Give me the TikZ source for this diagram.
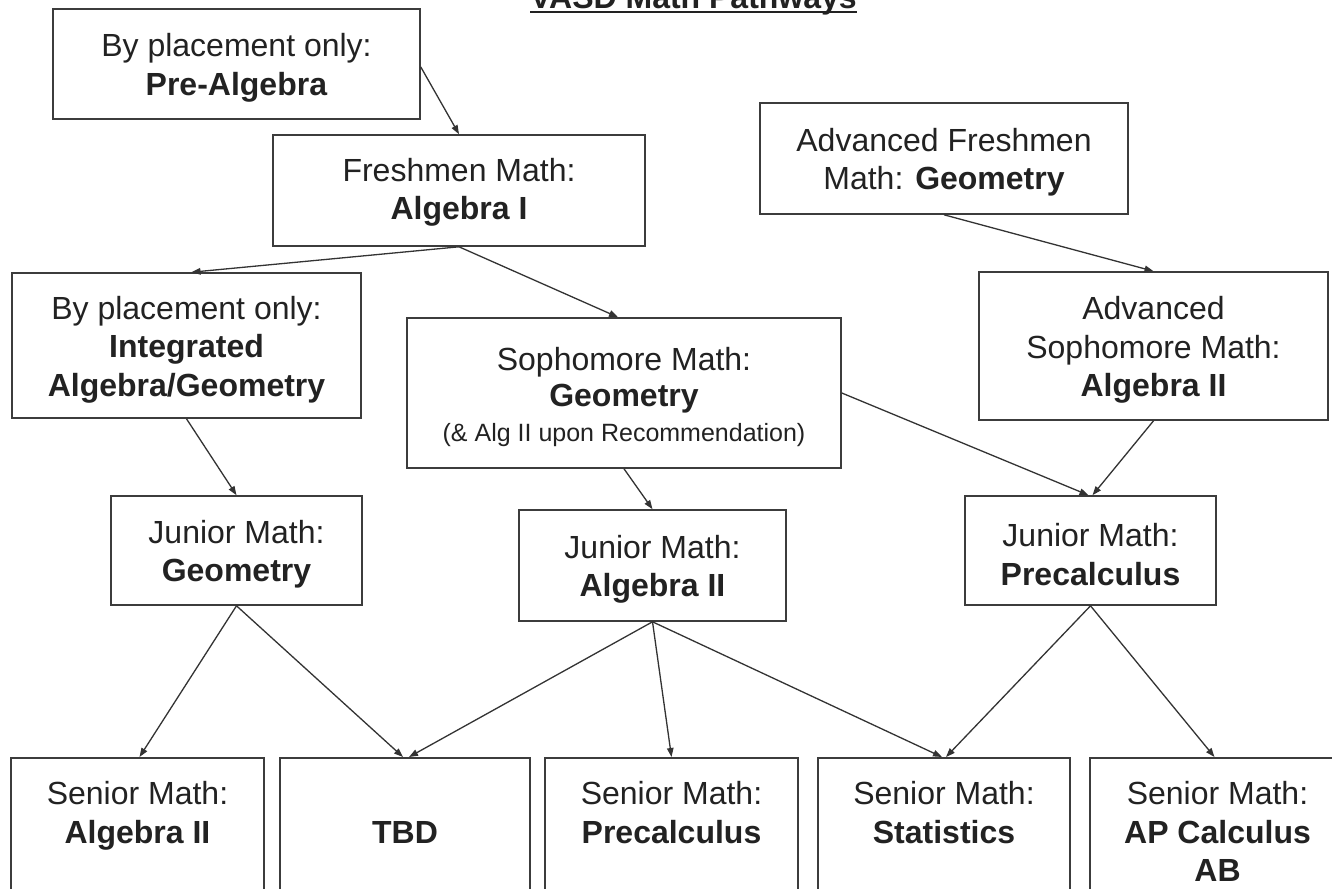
\documentclass[tikz,border=0pt]{standalone}
\usepackage{fontspec}
\setmainfont{Liberation Sans}
\usetikzlibrary{arrows.meta,calc}
\definecolor{boxgray}{HTML}{3C3C3C}
\definecolor{linegray}{HTML}{333333}
\definecolor{textgray}{HTML}{222222}
\newcommand{\topstrut}{\rule{0pt}{31pt}}
\begin{document}
\begin{tikzpicture}[x=1pt,y=-1pt,
  box/.style={draw=boxgray,line width=1.6pt,align=center,inner sep=0pt,
    font=\fontsize{32}{38.5}\selectfont,text=textgray},
  senior/.style={draw=boxgray,line width=1.6pt,inner xsep=0pt,inner ysep=24pt,
    anchor=north,font=\fontsize{32}{38.5}\selectfont,text=textgray},
  conn/.style={draw=linegray,line width=1.3pt,-{Triangle[length=9pt,width=6.5pt]}},
]
\path[use as bounding box] (0,0) rectangle (1332,888);
\clip (0,0) rectangle (1332,888);
\fill[white] (0,0) rectangle (1332,888);

% title
\node[font=\fontsize{32}{38}\selectfont\bfseries,inner sep=0pt,anchor=base,text=textgray]
  (title) at (693.5,9) {VASD Math Pathways};
\draw[line width=2.5pt,textgray] ($(title.base west)+(0,3)$) -- ($(title.base east)+(0,3)$);

% boxes
\node[box,minimum width=367,minimum height=110] (prealg) at (236.5,64)
  {\topstrut By placement only:\\\textbf{Pre-Algebra}};
\node[box,minimum width=372,minimum height=111] (fresh) at (459,190.5)
  {\rule{0pt}{27pt}Freshmen Math:\\\textbf{Algebra I}};
\node[box,minimum width=368,minimum height=111] (advfresh) at (944,158.5)
  {\topstrut Advanced Freshmen\\Math: \textbf{Geometry}};
\node[box,minimum width=349,minimum height=145] (integ) at (186.5,345.5)
  {\topstrut By placement only:\\\textbf{Integrated}\\\textbf{Algebra/Geometry}};
\node[box,minimum width=434,minimum height=150] (soph) at (624,393)
  {\topstrut Sophomore Math:\\[-2pt]\textbf{Geometry}\\[-4pt]{\fontsize{25}{30}\selectfont(\&~Alg II upon Recommendation)}};
\node[box,minimum width=349,minimum height=148] (advsoph) at (1153.5,346)
  {\topstrut Advanced\\Sophomore Math:\\\textbf{Algebra II}};
\node[box,minimum width=251,minimum height=109] (jg) at (236.5,550.5)
  {\topstrut Junior Math:\\\textbf{Geometry}};
\node[box,minimum width=267,minimum height=111] (ja) at (652.5,565.5)
  {\topstrut Junior Math:\\\textbf{Algebra II}};
\node[box,minimum width=251,minimum height=109] (jp) at (1090.5,550.5)
  {\topstrut Junior Math:\\\textbf{Precalculus}};

% senior boxes
\node[senior] (s1) at (137.5,757)
  {\parbox[t][150pt][t]{253pt}{\centering Senior Math:\\\textbf{Algebra II}}};
\node[senior] (tbd) at (405,757)
  {\parbox[t][150pt][t]{250pt}{\centering\vphantom{Senior Math:}\\\textbf{TBD}}};
\node[senior] (sprec) at (671.5,757)
  {\parbox[t][150pt][t]{253pt}{\centering Senior Math:\\\textbf{Precalculus}}};
\node[senior] (sstat) at (944,757)
  {\parbox[t][150pt][t]{252pt}{\centering Senior Math:\\\textbf{Statistics}}};
\node[senior] (sap) at (1217.5,757)
  {\parbox[t][150pt][t]{255pt}{\centering Senior Math:\\\textbf{AP Calculus}\\\textbf{AB}}};

% connectors
\draw[conn] ($(prealg.east)+(0,3)$) -- (fresh.north);
\draw[conn] (fresh.south) -- ($(integ.north)+(5,0)$);
\draw[conn] (fresh.south) -- ($(soph.north)+(-6,0)$);
\draw[conn] (advfresh.south) -- (advsoph.north);
\draw[conn] (integ.south) -- (jg.north);
\draw[conn] (soph.south) -- (ja.north);
\draw[conn] (soph.east) -- ($(jp.north)+(-2,0)$);
\draw[conn] (advsoph.south) -- ($(jp.north)+(2,0)$);
\draw[conn] (jg.south) -- ($(s1.north)+(2,0)$);
\draw[conn] (jg.south) -- ($(tbd.north)+(-2,0)$);
\draw[conn] (ja.south) -- ($(tbd.north)+(4,0)$);
\draw[conn] (ja.south) -- (sprec.north);
\draw[conn] (ja.south) -- ($(sstat.north)+(-2,0)$);
\draw[conn] (jp.south) -- ($(sstat.north)+(2,0)$);
\draw[conn] (jp.south) -- ($(sap.north)+(-3,0)$);
\end{tikzpicture}
\end{document}
